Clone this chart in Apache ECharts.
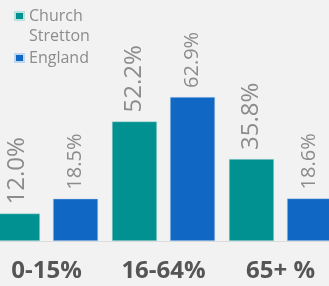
<!DOCTYPE html>
<html><head><meta charset="utf-8">
<script src="https://cdn.jsdelivr.net/npm/echarts@6/dist/echarts.min.js"></script>
<style>html,body{margin:0;padding:0;background:#f2f2f2}#c{width:329px;height:286px}</style>
</head><body><div id="c"></div>
<script>
const categories = ['0-15%', '16-64%', '65+ %'];
const churchStretton = [12.0, 52.2, 35.8];
const england = [18.5, 62.9, 18.6];
const seriesNames = ['Church Stretton', 'England'];

const chart = echarts.init(document.getElementById('c'));
function lbl(size) {
  return {
    show: true, position: 'top', rotate: 90, align: 'left', verticalAlign: 'middle',
    distance: 9, fontFamily: 'Open Sans', fontSize: size, color: '#8c8c8c',
    formatter: p => p.value.toFixed(1) + '%'
  };
}
chart.setOption({
  backgroundColor: '#f2f2f2',
  animation: false,
  legend: {
    left: 14, top: -14, padding: 0, orient: 'vertical', itemWidth: 9, itemHeight: 8, itemGap: 2,
    icon: 'rect',
    textStyle: { fontFamily: 'Open Sans', fontSize: 16, color: '#8c8c8c', lineHeight: 20 },
    formatter: n => n === seriesNames[0] ? '\nChurch\nStretton' : n,
    data: seriesNames
  },
  grid: { left: -12, right: -10, top: 12, bottom: 45, outerBoundsMode: 'none', containLabel: false },
  xAxis: {
    type: 'category', data: categories,
    axisTick: { show: false },
    axisLine: { lineStyle: { color: '#dcdcdc', width: 1 } },
    axisLabel: { fontFamily: 'Open Sans', fontWeight: 'bold', fontSize: 24, color: '#555', margin: 18 }
  },
  yAxis: { type: 'value', min: 0, max: 100, show: false, splitLine: { show: false } },
  series: [
    { name: seriesNames[0], type: 'bar', data: churchStretton, barWidth: 45, barGap: '29%',
      itemStyle: { color: '#009190', borderColor: '#bfe0df', borderWidth: 0.5 }, label: lbl(24) },
    { name: seriesNames[1], type: 'bar', data: england, barWidth: 45,
      itemStyle: { color: '#1068c4', borderColor: '#c0d6ee', borderWidth: 0.5 }, label: lbl(20) }
  ]
});
</script></body></html>
